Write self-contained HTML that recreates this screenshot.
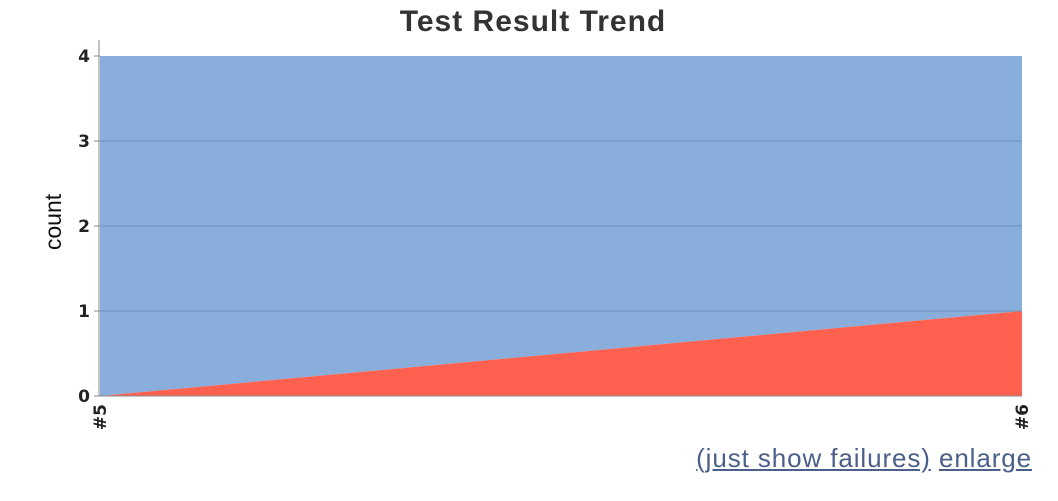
<!DOCTYPE html>
<html><head><meta charset="utf-8"><style>
body{margin:0;background:#fff;width:1058px;height:496px;overflow:hidden;font-family:"Liberation Sans",sans-serif}
a{color:#4a5f8a}
</style></head><body>
<svg id="chart" width="1058" height="496">
<text x="533" y="31" text-anchor="middle" font-size="30" font-weight="bold" letter-spacing="1" fill="#333" font-family="Liberation Sans, sans-serif">Test Result Trend</text>
<text transform="translate(61,222) rotate(-90)" text-anchor="middle" font-size="23" fill="#111" font-family="Liberation Sans, sans-serif">count</text>
<g id="plot"></g>
</svg>
<div style="position:absolute;right:26px;top:443px;font-size:26px;letter-spacing:0.9px;color:#4a5f8a;white-space:nowrap"><a href="#">(just show failures)</a> <a href="#">enlarge</a></div>
<script>
const builds=["#5","#6"];
const failures=[0,1];
const passes=[4,3];
const yTicks=[0,1,2,3,4];
const NS="http://www.w3.org/2000/svg";
const L=100,R=1022,T=56,B=396,YMAX=4;
const x=i=>L+(R-L)*i/(builds.length-1);
const y=v=>B-(B-T)*v/YMAX;
const g=document.getElementById('plot');
function mk(t,a){const e=document.createElementNS(NS,t);for(const k in a)e.setAttribute(k,a[k]);g.appendChild(e);return e;}
const tot=passes.map((p,i)=>p+failures[i]);
let pp=builds.map((b,i)=>x(i)+','+y(tot[i])).join(' ')+' '+builds.map((b,i)=>x(i)+','+y(failures[i])).reverse().join(' ');
const pa=mk('polygon',{points:pp,fill:'#8aaedb'});


let fp=builds.map((b,i)=>x(i)+','+y(failures[i])).join(' ')+' '+x(builds.length-1)+','+B+' '+x(0)+','+B;
const fa=mk('polygon',{points:fp,fill:'#ff6150'});


yTicks.forEach(v=>{
 if(v>0&&v<YMAX){const gl=mk('line',{x1:L,x2:R,y1:y(v),y2:y(v),stroke:'#6f93c0','stroke-width':1});
 
 }
 mk('line',{x1:L-6,x2:L,y1:y(v),y2:y(v),stroke:'#888'});
 const t=mk('text',{x:L-10,y:y(v)+6,'text-anchor':'end','font-size':17,'font-weight':'bold',fill:'#222','font-family':'DejaVu Sans, sans-serif'});
 t.textContent=v;
 
 
});
mk('line',{x1:L-1,x2:L-1,y1:40,y2:B,stroke:'#888'});
mk('line',{x1:L-1,x2:R,y1:B,y2:B,stroke:'#888'});
builds.forEach((b,i)=>{
 const t=mk('text',{transform:`translate(${x(i)+6},${B+8}) rotate(-90)`,'text-anchor':'end','font-size':17,'font-weight':'bold',fill:'#222','font-family':'DejaVu Sans, sans-serif'});
 t.textContent=b;
 
 
});
</script>
</body></html>
